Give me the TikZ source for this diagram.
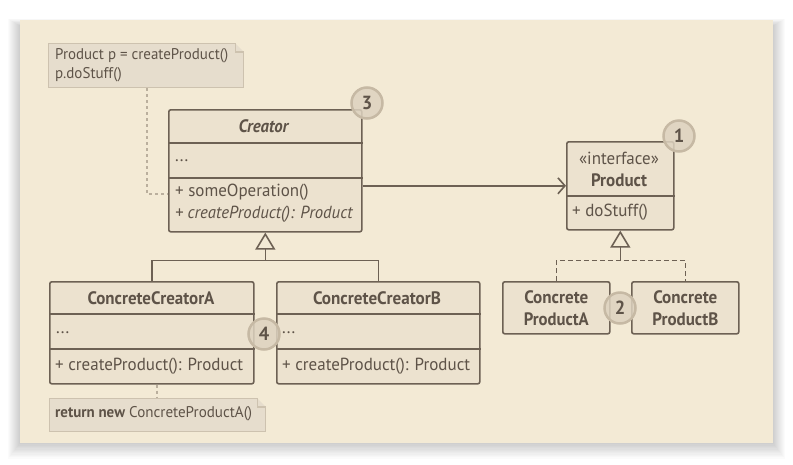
\documentclass[tikz,border=0pt]{standalone}
\usepackage{fontspec}
\usepackage{graphicx}
\setmainfont{PT Sans}[FakeStretch=0.97]
\usetikzlibrary{arrows.meta,calc}
\definecolor{panelc}{HTML}{F3EAD5}
\definecolor{boxc}{HTML}{ECE2CF}
\definecolor{strokec}{HTML}{6D6154}
\definecolor{textc}{HTML}{5E5348}
\definecolor{notec}{HTML}{E6DDCD}
\definecolor{notebd}{HTML}{CDC2AF}
\definecolor{badgec}{HTML}{DDD2BF}
\definecolor{badgebd}{HTML}{C6B9A4}
\newcommand\fitw[2]{\sbox0{#2}\pgfmathsetmacro\fitfac{#1/\the\wd0}\scalebox{\fitfac}[1]{\usebox0}}
\tikzset{
  txt/.style={font=\fontsize{17.5}{20}\selectfont, text=textc, inner sep=0pt},
  ltxt/.style={txt, anchor=west},
  ctxt/.style={txt, anchor=center, align=center},
  htxt/.style={font=\fontsize{18}{21}\selectfont\bfseries, text=textc, inner sep=0pt, anchor=center, align=center},
  ntxt/.style={font=\fontsize{15.5}{18}\selectfont, text=textc, inner sep=0pt, anchor=west},
  classbox/.style={draw=strokec, fill=boxc, line width=1.6pt, rounded corners=2pt, inner sep=0pt, anchor=north west},
  sep/.style={draw=strokec, line width=1.6pt},
  notebox/.style={draw=notebd, fill=notec, line width=1.2pt, inner sep=0pt, anchor=north west},
  noteline/.style={draw=notebd!80!strokec, line width=1.2pt, dash pattern=on 3pt off 3pt},
  conn/.style={draw=strokec, line width=1.6pt},
  badge/.style={circle, draw=badgebd, fill=badgec, fill opacity=0.85, text opacity=1, line width=2.5pt, minimum size=31pt, inner sep=0pt, font=\fontsize{19}{20}\selectfont\bfseries, text=textc},
}
\begin{document}
\begin{tikzpicture}[x=1pt,y=-1pt]
\useasboundingbox (0,0) rectangle (793,464);
\fill[white] (0,0) rectangle (793,464);
% panel shadow
\foreach \i in {1,...,12}{
  \fill[black, opacity=0.014] ($(20,26)+(-\i,-\i*0.6)$) rectangle ($(773,443)+(\i,\i*1.3)$);
}
\fill[panelc] (20,20) rectangle (773,443);

% notes
\node[notebox, minimum width=195pt, minimum height=44pt] (note1) at (48,43) {};
\fill[panelc] ([xshift=-9pt]note1.north east) -- (note1.north east) -- ([yshift=-9pt]note1.north east) -- cycle;
\draw[notebd, line width=1.2pt] ([xshift=-9pt]note1.north east) -- ([xshift=-9pt,yshift=-9pt]note1.north east) -- ([yshift=-9pt]note1.north east);
\node[ntxt] (n1a) at (55,56) {\fitw{173}{Product p = createProduct()}};
\node[ntxt] (n1b) at (55,75) {p.doStuff()};

\node[notebox, minimum width=216pt, minimum height=33pt] (note2) at (49,398) {};
\fill[panelc] ([xshift=-9pt]note2.north east) -- (note2.north east) -- ([yshift=-9pt]note2.north east) -- cycle;
\draw[notebd, line width=1.2pt] ([xshift=-9pt]note2.north east) -- ([xshift=-9pt,yshift=-9pt]note2.north east) -- ([yshift=-9pt]note2.north east);
\node[ntxt] (n2a) at (55,414) {\fitw{70}{\textbf{return new}}\hspace{4pt}\fitw{123}{ConcreteProductA()}};

% Creator
\node[classbox, minimum width=193pt, minimum height=122pt] (creator) at (168,109) {};
\draw[sep] ([yshift=-34pt]creator.north west) -- ([yshift=-34pt]creator.north east);
\draw[sep] ([yshift=-69pt]creator.north west) -- ([yshift=-69pt]creator.north east);
\node[htxt] (creatorT) at (264,126) {\fitw{51}{\textit{Creator}}};
\node[ltxt] (creatorA) at (175,161) {...};
\node[ltxt] (creatorM1) at (175,192) {+ someOperation()};
\node[ltxt] (creatorM2) at (175,214) {\fitw{178}{\textit{+ createProduct(): Product}}};

% Product
\node[classbox, minimum width=107pt, minimum height=88pt] (product) at (566,141) {};
\draw[sep] ([yshift=-55pt]product.north west) -- ([yshift=-55pt]product.north east);
\node[ctxt] (productS) at (619,158) {«interface»};
\node[htxt] (productT) at (619,180) {\fitw{56}{Product}};
\node[ltxt] (productM) at (572,212) {+ doStuff()};

% Concrete products
\node[classbox, minimum width=107pt, minimum height=52pt] (cpa) at (502,281) {};
\node[htxt] (cpaT) at (cpa.center) {\fitw{64}{Concrete}\\[1pt]\fitw{65}{ProductA}};
\node[classbox, minimum width=107pt, minimum height=52pt] (cpb) at (631,281) {};
\node[htxt] (cpbT) at (cpb.center) {\fitw{64}{Concrete}\\[1pt]\fitw{66}{ProductB}};

% Concrete creators
\node[classbox, minimum width=204pt, minimum height=102pt] (cca) at (49,281) {};
\draw[sep] ([yshift=-33pt]cca.north west) -- ([yshift=-33pt]cca.north east);
\draw[sep] ([yshift=-68pt]cca.north west) -- ([yshift=-68pt]cca.north east);
\node[htxt] (ccaT) at (151,298) {\fitw{127}{ConcreteCreatorA}};
\node[ltxt] (ccaA) at (56,333) {...};
\node[ltxt] (ccaM) at (55,366) {\fitw{188}{+ createProduct(): Product}};

\node[classbox, minimum width=203pt, minimum height=102pt] (ccb) at (276,281) {};
\draw[sep] ([yshift=-33pt]ccb.north west) -- ([yshift=-33pt]ccb.north east);
\draw[sep] ([yshift=-68pt]ccb.north west) -- ([yshift=-68pt]ccb.north east);
\node[htxt] (ccbT) at (377,298) {\fitw{128}{ConcreteCreatorB}};
\node[ltxt] (ccbA) at (282,333) {...};
\node[ltxt] (ccbM) at (282,366) {\fitw{188}{+ createProduct(): Product}};

% connectors
\draw[conn, -{Straight Barb[length=7pt, width=16pt, line width=1.6pt]}] (creator.east |- product.west) -- (product.west);

\coordinate (j1) at ($(creator.south)+(0,28)$);
\draw[conn] (cca.north) |- (j1) -| (ccb.north);
\draw[conn, -{Triangle[open, length=17pt, width=20pt, line width=1.6pt]}] (j1) -- (creator.south);

\coordinate (j2) at ($(product.south)+(0,30)$);
\draw[conn, dash pattern=on 5pt off 3pt] (cpa.north) |- (j2) -| (cpb.north);
\draw[conn, -{Triangle[open, length=17pt, width=20pt, line width=1.6pt]}] (j2) -- (product.south);

\draw[noteline] ([xshift=99pt]note1.south west) |- ([yshift=-85pt]creator.north west);
\draw[noteline] ([xshift=108pt]cca.south west) -- ([xshift=108pt]note2.north west);

% badges
\node[badge] (b3) at (367,103) {3};
\node[badge] (b1) at (679,136) {1};
\node[badge] (b2) at (620,308) {2};
\node[badge] (b4) at (264,334) {4};
\end{tikzpicture}
\end{document}
